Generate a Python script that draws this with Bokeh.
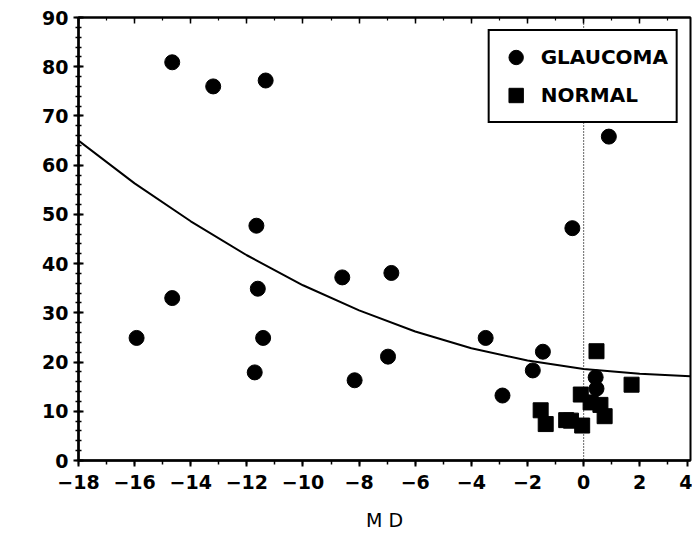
from bokeh.plotting import figure
from bokeh.models import (LinearAxis, Span, Legend, LegendItem, Label,
                          FixedTicker, Range1d, CustomLabelingPolicy)
from bokeh.embed import file_html
from bokeh.resources import INLINE

# ---- data ----
glaucoma_md = [-14.66, -13.20, -11.33, -11.66, -14.66, -15.93, -11.61, -11.42,
               -11.72, -8.60, -8.16, -6.85, -6.97, -3.49, -1.45, -1.81, -2.89,
               -0.40, 0.90, 0.43, 0.46]
glaucoma_gn = [80.9, 76.0, 77.2, 47.7, 33.0, 24.9, 34.9, 24.9,
               17.9, 37.2, 16.3, 38.1, 21.1, 24.9, 22.1, 18.3, 13.2,
               47.2, 65.8, 16.9, 14.6]

normal_md = [0.46, 1.71, -0.10, 0.25, 0.60, 0.75, -1.53, -1.35, -0.62, -0.45, -0.05]
normal_gn = [22.2, 15.4, 13.4, 11.8, 11.3, 9.0, 10.2, 7.4, 8.2, 8.1, 7.1]

curve_md = [-18, -16, -14, -12, -10, -8, -6, -4, -2, 0, 2, 3.8]
curve_gn = [65.0, 56.3, 48.6, 41.7, 35.6, 30.5, 26.2, 22.8, 20.3, 18.6, 17.6, 17.1]

x_ticks = [-18, -16, -14, -12, -10, -8, -6, -4, -2, 0, 2, 4]
x_minor = list(range(-18, 5))
y_ticks = [0, 10, 20, 30, 40, 50, 60, 70, 80, 90]
y_minor = list(range(0, 91, 2))
x_start, x_end = -18, 3.81

FONT = "DejaVu Sans"

# the reference's frame ends just short of 4; its "4" label sits at the edge
edge_pos = round(x_end - 0.1, 2)
tick_pos = [t if t <= x_end else edge_pos for t in x_ticks]
overrides = {edge_pos: str(t) for t in x_ticks if t > x_end}

p = figure(width=692, height=547, x_range=Range1d(x_start, x_end), y_range=Range1d(0, 90),
           output_backend="svg", toolbar_location=None,
           min_border_left=78, min_border_right=2, min_border_top=17, min_border_bottom=87)
p.grid.visible = False
p.outline_line_color = "black"
p.outline_line_width = 2

p.xaxis.ticker = FixedTicker(ticks=tick_pos, minor_ticks=x_minor)
p.xaxis.major_label_overrides = overrides
p.yaxis.ticker = FixedTicker(ticks=y_ticks, minor_ticks=y_minor)

for ax in (p.xaxis[0], p.yaxis[0]):
    ax.axis_line_width = 2.5
    ax.major_tick_line_width = 2
    ax.minor_tick_line_width = 1.5
    ax.major_label_text_font = FONT
    ax.major_label_text_font_size = "19px"
    ax.major_label_text_font_style = "bold"
    ax.major_label_text_color = "black"

p.xaxis.major_tick_in = 0
p.xaxis.major_tick_out = 6
p.xaxis.minor_tick_in = 0
p.xaxis.minor_tick_out = 4
p.xaxis.major_label_standoff = 8
p.xaxis.axis_label = "M D"
p.xaxis.axis_label_text_font = FONT
p.xaxis.axis_label_text_font_size = "19px"
p.xaxis.axis_label_text_font_style = "normal"
p.xaxis.axis_label_text_color = "black"
p.xaxis.axis_label_standoff = 17

p.yaxis.major_tick_in = 5
p.yaxis.major_tick_out = 5
p.yaxis.minor_tick_in = 3
p.yaxis.minor_tick_out = 3
p.yaxis.major_label_standoff = 5

no_labels = CustomLabelingPolicy(code="""
for (const i of Array.from(indices)) indices.unset(i)
return indices
""")
top = LinearAxis(ticker=FixedTicker(ticks=x_ticks, minor_ticks=x_minor),
                 major_label_policy=no_labels, major_label_standoff=0,
                 major_tick_in=6, major_tick_out=0, minor_tick_in=3, minor_tick_out=0,
                 major_tick_line_width=1.5, minor_tick_line_width=1.2,
                 axis_line_width=2)
p.add_layout(top, "above")

p.add_layout(Span(location=0, dimension="height", line_color="black",
                  line_width=1.2, line_dash="1 2"))

p.line(curve_md, curve_gn, line_color="black", line_width=2)
c = p.scatter(glaucoma_md, glaucoma_gn, marker="circle", size=15,
              fill_color="black", line_color="black")
s = p.scatter(normal_md, normal_gn, marker="square", size=15,
              fill_color="black", line_color="black")

legend = Legend(items=[LegendItem(label="GLAUCOMA", renderers=[c]),
                       LegendItem(label="NORMAL", renderers=[s])],
                location="top_right", margin=12, padding=8, spacing=2,
                glyph_width=36, glyph_height=36, label_height=36,
                label_standoff=7,
                label_text_font=FONT, label_text_font_size="20px",
                label_text_font_style="bold", label_text_color="black",
                border_line_color="black", border_line_width=2, border_line_alpha=1,
                background_fill_color="white", background_fill_alpha=1)
p.add_layout(legend)

p.add_layout(Label(x=x_start, y=50, text="G", x_offset=-56, text_align="center",
                   text_baseline="middle", text_font=FONT, text_font_size="19px",
                   text_font_style="bold", text_color="black"))
p.add_layout(Label(x=x_start, y=35, text="N", x_offset=-56, text_align="center",
                   text_baseline="middle", text_font=FONT, text_font_size="19px",
                   text_font_style="bold", text_color="black"))

open("out.html", "w").write(file_html(p, INLINE))
